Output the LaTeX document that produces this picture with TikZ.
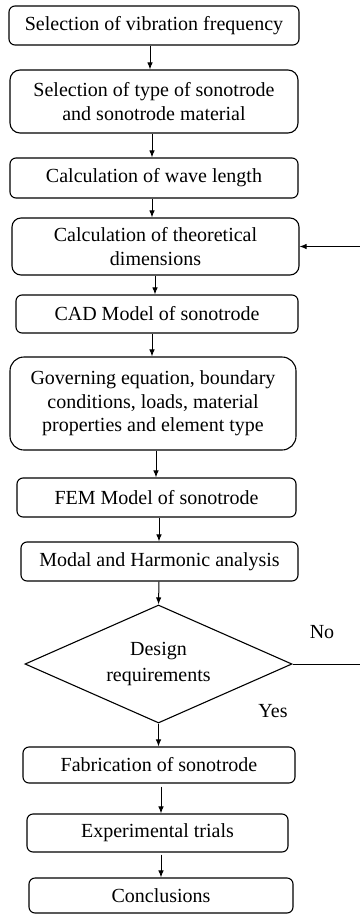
\documentclass[tikz,border=0pt]{standalone}
\usepackage{fontspec}
\setmainfont{Liberation Serif}
\usetikzlibrary{shapes.geometric,arrows.meta}
\begin{document}
\begin{tikzpicture}[x=1pt,y=-1pt,
  box/.style={draw, line width=1.1pt, rounded corners=6pt, inner sep=0pt, align=center,
    font=\fontsize{20}{23.5}\selectfont},
  arr/.style={line width=1pt, -{Latex[length=7pt,width=5.5pt]}},
  lbl/.style={font=\fontsize{20}{23.5}\selectfont, inner sep=0pt}]
\useasboundingbox[fill=white] (0,0) rectangle (359,915);
\node[box, minimum width=290pt, minimum height=39pt] (b1) at (154,25.5) {Selection of vibration frequency};
\node[box, rounded corners=10pt, minimum width=288pt, minimum height=63pt] (b2) at (154,101.5) {Selection of type of sonotrode\\and sonotrode material};
\node[box, minimum width=288pt, minimum height=40pt] (b3) at (154,178) {Calculation of wave length};
\node[box, rounded corners=9pt, minimum width=287pt, minimum height=57pt] (b4) at (155.5,246.5) {Calculation of theoretical\\dimensions};
\node[box, minimum width=282pt, minimum height=38pt] (b5) at (157,314) {CAD Model of sonotrode};
\node[box, rounded corners=14pt, minimum width=286pt, minimum height=93pt] (b6) at (153,403.5) {Governing equation, boundary\\conditions, loads, material\\properties and element type};
\node[box, minimum width=279pt, minimum height=39pt] (b7) at (156.5,497.5) {FEM Model of sonotrode};
\node[box, minimum width=277pt, minimum height=39pt] (b8) at (159.5,561.5) {Modal and Harmonic analysis};
\node[draw, line width=1.1pt, diamond, aspect=2.26, minimum width=267pt, minimum height=118pt, inner sep=0pt, align=center,
  font=\fontsize{20}{26}\selectfont] (d) at (158.5,664) {Design\\requirements};
\node[box, minimum width=272pt, minimum height=36pt] (b9) at (159,765) {Fabrication of sonotrode};
\node[box, minimum width=261pt, minimum height=38pt] (b10) at (157.5,833) {Experimental trials};
\node[box, minimum width=264pt, minimum height=35pt] (b11) at (161,895.5) {Conclusions};
\node[lbl] (no) at (322,632) {No};
\node[lbl] (yes) at (273,711) {Yes};
\draw[arr] (b1.south -| 150,0) -- (b2.north -| 150,0);
\draw[arr] (b2.south -| 152,0) -- (b3.north -| 152,0);
\draw[arr] (b3.south -| 152,0) -- (b4.north -| 152,0);
\draw[arr] (b4.south -| 155,0) -- (b5.north -| 155,0);
\draw[arr] (b5.south -| 152,0) -- (b6.north -| 152,0);
\draw[arr] (b6.south -| 156,0) -- (b7.north -| 156,0);
\draw[arr] (b7.south -| 159,0) -- (b8.north -| 159,0);
\draw[arr] (b8.south -| 159,0) -- (d.north);
\draw[arr] (d.south) -- (b9.north -| d.south);
\draw[arr] ([yshift=-3pt]b9.south -| 161,0) -- (b10.north -| 161,0);
\draw[arr] ([yshift=-2pt]b10.south -| 161,0) -- (b11.north -| 161,0);
\coordinate (rt) at (362,0);
\draw[arr] (d.east) -- (d.east -| rt) -- (b4.east -| rt) -- (b4.east);
\end{tikzpicture}
\end{document}
